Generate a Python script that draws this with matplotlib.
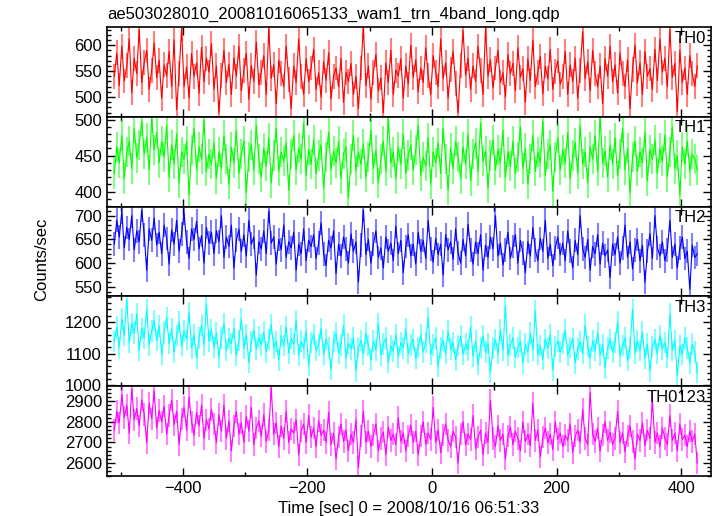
import numpy as np
import matplotlib.pyplot as plt
from matplotlib.colors import to_rgba
from matplotlib.ticker import MultipleLocator

plt.rcParams['font.family'] = ['Liberation Sans', 'DejaVu Sans']

title = "ae503028010_20081016065133_wam1_trn_4band_long.qdp"
bands = ["TH0", "TH1", "TH2", "TH3", "TH0123"]
colors = ["#ff0000", "#00ff00", "#0000ff", "#00ffff", "#ff00ff"]

# time grid of the light curve (sec from 2008/10/16 06:51:33)
t_start = -510
t_step = 4

th0 = [540, 585, 522, 598, 531, 560, 612, 508, 575, 545, 630, 528, 566, 590, 515, 552, 604, 537, 571, 498,
       562, 541, 588, 520, 610, 476, 545, 632, 520, 558, 498, 584, 540, 566, 507, 596, 529, 575, 548, 603,
       515, 560, 470, 541, 590, 528, 563, 505, 576, 540, 598, 512, 552, 584, 496, 561, 530, 606, 523, 548,
       580, 505, 632, 536, 562, 487, 571, 545, 520, 598, 534, 478, 560, 528, 612, 540, 505, 574, 530, 556,
       592, 515, 547, 500, 568, 532, 585, 497, 540, 556, 520, 575, 490, 548, 530, 565, 505, 540, 478, 556,
       635, 522, 560, 496, 548, 582, 512, 537, 470, 566, 528, 590, 505, 552, 541, 574, 498, 560, 525, 600,
       538, 572, 510, 556, 528, 595, 541, 505, 580, 548, 520, 612, 535, 566, 498, 553, 588, 526, 470, 560,
       628, 542, 575, 515, 560, 530, 598, 552, 505, 632, 540, 572, 518, 556, 590, 528, 547, 500, 582, 545,
       565, 512, 595, 538, 555, 490, 574, 532, 610, 520, 548, 578, 506, 560, 535, 592, 515, 550, 570, 525,
       540, 588, 505, 562, 530, 575, 498, 552, 626, 535, 568, 512, 590, 545, 520, 560, 487, 574, 540, 598,
       530, 562, 508, 585, 545, 520, 572, 478, 553, 600, 527, 566, 505, 588, 540, 555, 515, 592, 532, 612,
       548, 575, 520, 630, 538, 565, 472, 590, 528, 556, 505, 580, 545, 520, 560]

th1 = [425, 462, 440, 478, 418, 455, 470, 432, 488, 447, 465, 498, 452, 475, 430, 503, 458, 482, 440, 470,
       448, 492, 420, 465, 438, 480, 412, 455, 445, 470, 395, 458, 488, 430, 462, 445, 500, 428, 452, 438,
       468, 418, 455, 432, 478, 445, 410, 462, 440, 485, 425, 452, 470, 398, 448, 465, 430, 492, 445, 420,
       460, 435, 475, 412, 450, 488, 428, 455, 442, 468, 402, 452, 478, 430, 460, 445, 495, 422, 458, 438,
       472, 425, 450, 465, 405, 448, 482, 430, 456, 440, 470, 418, 452, 462, 392, 445, 478, 428, 455, 438,
       466, 420, 448, 485, 432, 458, 412, 445, 470, 428, 502, 440, 455, 418, 462, 438, 480, 425, 450, 465,
       430, 458, 492, 422, 448, 435, 475, 410, 455, 440, 468, 425, 488, 445, 402, 460, 432, 470, 448, 418,
       462, 438, 480, 415, 452, 468, 428, 495, 442, 456, 405, 450, 472, 430, 458, 440, 485, 420, 455, 435,
       470, 425, 448, 490, 432, 460, 410, 445, 478, 428, 455, 440, 498, 422, 452, 465, 400, 448, 475, 430,
       458, 440, 482, 418, 450, 468, 425, 492, 438, 455, 412, 462, 445, 478, 428, 505, 440, 456, 420, 465,
       438, 475, 422, 452, 488, 430, 460, 398, 448, 470, 428, 455, 440, 482, 415, 458, 445, 472, 425, 460,
       442, 478, 420, 455, 490, 432, 450, 395, 462, 438, 470, 428, 452, 445, 430]

th2 = [640, 690, 655, 708, 632, 675, 650, 700, 628, 668, 645, 712, 660, 585, 672, 648, 695, 638, 665, 620,
       680, 652, 598, 670, 640, 690, 625, 662, 705, 645, 610, 672, 650, 688, 630, 658, 600, 675, 642, 665,
       620, 668, 645, 700, 612, 655, 635, 680, 590, 648, 672, 625, 660, 615, 690, 640, 655, 575, 645, 630,
       668, 620, 710, 642, 655, 598, 650, 628, 680, 612, 645, 632, 665, 585, 640, 620, 672, 605, 648, 635,
       660, 610, 642, 685, 620, 595, 648, 632, 668, 578, 640, 615, 655, 630, 600, 662, 625, 645, 560, 638,
       712, 618, 650, 600, 640, 668, 612, 632, 590, 655, 625, 642, 605, 678, 620, 648, 580, 635, 660, 615,
       640, 598, 665, 625, 648, 610, 690, 630, 602, 652, 618, 640, 575, 660, 628, 645, 608, 672, 622, 600,
       650, 615, 682, 628, 598, 645, 620, 660, 585, 638, 612, 655, 630, 700, 615, 642, 596, 628, 665, 610,
       635, 660, 600, 648, 622, 580, 645, 615, 675, 628, 605, 652, 625, 690, 610, 640, 595, 632, 655, 618,
       642, 605, 668, 625, 590, 648, 618, 700, 630, 612, 650, 585, 635, 620, 660, 598, 642, 615, 628, 570,
       640, 618, 655, 600, 632, 680, 612, 645, 588, 628, 650, 605, 638, 560, 625, 662, 610, 700, 632, 615,
       645, 605, 628, 690, 612, 640, 590, 632, 655, 610, 625, 545, 638, 612, 620]

th3 = [1140, 1185, 1120, 1210, 1158, 1270, 1135, 1195, 1165, 1225, 1110, 1180, 1150, 1240, 1128, 1172, 1205, 1142, 1188, 1098,
       1165, 1215, 1132, 1178, 1105, 1158, 1200, 1125, 1172, 1145, 1230, 1118, 1160, 1085, 1150, 1190, 1128, 1255, 1140, 1175,
       1120, 1165, 1088, 1150, 1195, 1110, 1148, 1132, 1180, 1095, 1142, 1210, 1118, 1160, 1072, 1138, 1175, 1115, 1152, 1128,
       1168, 1105, 1145, 1192, 1118, 1138, 1080, 1155, 1125, 1185, 1102, 1148, 1130, 1205, 1095, 1140, 1118, 1172, 1062, 1135,
       1160, 1110, 1128, 1180, 1098, 1145, 1120, 1050, 1138, 1165, 1102, 1128, 1190, 1085, 1132, 1115, 1150, 1045, 1120, 1142,
       1098, 1165, 1125, 1080, 1140, 1112, 1195, 1095, 1130, 1150, 1072, 1125, 1108, 1160, 1090, 1135, 1118, 1178, 1100, 1128,
       1145, 1085, 1120, 1160, 1105, 1135, 1215, 1098, 1128, 1150, 1060, 1118, 1142, 1100, 1172, 1115, 1135, 1080, 1125, 1155,
       1098, 1130, 1112, 1185, 1092, 1140, 1065, 1120, 1155, 1105, 1132, 1040, 1118, 1145, 1100, 1175, 1110, 1250, 1095, 1128,
       1150, 1088, 1120, 1140, 1070, 1130, 1105, 1165, 1112, 1235, 1098, 1125, 1082, 1145, 1118, 1160, 1048, 1122, 1140, 1105,
       1132, 1175, 1095, 1120, 1148, 1070, 1115, 1138, 1100, 1190, 1122, 1085, 1140, 1110, 1165, 1095, 1128, 1055, 1118, 1145,
       1105, 1135, 1200, 1092, 1125, 1150, 1078, 1118, 1240, 1102, 1140, 1110, 1168, 1085, 1130, 1045, 1122, 1145, 1100, 1158,
       1115, 1135, 1088, 1225, 1110, 1142, 1030, 1125, 1098, 1150, 1118, 1070, 1130, 1105, 1040]

th0123 = [2760, 2850, 2795, 2930, 2820, 2880, 2745, 2960, 2810, 2865, 2780, 2905, 2835, 2700, 2890, 2815, 2950, 2770, 2855, 2800,
          2875, 2740, 2830, 2905, 2785, 2850, 2690, 2815, 2870, 2760, 2920, 2800, 2735, 2845, 2780, 2880, 2720, 2810, 2765, 2860,
          2790, 2700, 2835, 2755, 2880, 2720, 2805, 2660, 2780, 2850, 2740, 2795, 2700, 2825, 2755, 2870, 2690, 2770, 2805, 2730,
          2835, 2705, 2760, 2965, 2740, 2795, 2680, 2780, 2720, 2850, 2700, 2765, 2745, 2810, 2640, 2755, 2790, 2700, 2830, 2725,
          2770, 2680, 2805, 2735, 2760, 2700, 2845, 2690, 2745, 2620, 2725, 2790, 2705, 2760, 2660, 2740, 2700, 2810, 2580, 2730,
          2850, 2700, 2755, 2680, 2735, 2790, 2660, 2720, 2750, 2640, 2775, 2710, 2740, 2690, 2820, 2705, 2745, 2660, 2730, 2785,
          2700, 2755, 2640, 2730, 2800, 2690, 2745, 2715, 2870, 2700, 2760, 2650, 2735, 2790, 2710, 2680, 2755, 2725, 2600, 2740,
          2800, 2690, 2740, 2715, 2830, 2670, 2725, 2760, 2640, 2745, 2700, 2905, 2720, 2680, 2780, 2710, 2740, 2620, 2730, 2775,
          2690, 2755, 2720, 2660, 2800, 2705, 2740, 2685, 2890, 2710, 2760, 2630, 2725, 2770, 2700, 2740, 2665, 2800, 2715, 2745,
          2680, 2735, 2710, 2790, 2650, 2730, 2760, 2700, 2860, 2720, 2690, 2940, 2740, 2705, 2770, 2660, 2735, 2800, 2710, 2750,
          2690, 2720, 2850, 2700, 2745, 2655, 2730, 2780, 2705, 2620, 2740, 2710, 2795, 2685, 2760, 2720, 2900, 2700, 2745, 2680,
          2770, 2720, 2690, 2830, 2710, 2745, 2660, 2790, 2715, 2735, 2680, 2755, 2705, 2740, 2600]

# typical 1-sigma error per band (counts/sec)
errors = [24, 21, 25, 34, 54]

series = [th0, th1, th2, th3, th0123]
y_limits = [(462, 635), (379, 504), (530, 719), (997, 1281), (2538, 2972)]
y_major = [50, 50, 50, 100, 100]
y_minor = [10, 10, 10, 20, 20]

fig = plt.figure(figsize=(7.17, 5.16), dpi=100)
axes = fig.subplots(5, 1, sharex=True, gridspec_kw=dict(hspace=0))
fig.subplots_adjust(left=0.149, right=0.9916, bottom=0.0775, top=0.9477)

for i, ax in enumerate(axes):
    vals = np.array(series[i], dtype=float)
    t = t_start + t_step * np.arange(len(vals))
    ax.errorbar(t, vals, yerr=errors[i], color=colors[i], lw=0.8,
                ecolor=to_rgba(colors[i], 0.5), elinewidth=1.5, capsize=0)
    ax.set_xlim(-522, 448)
    ax.set_ylim(*y_limits[i])
    ax.yaxis.set_major_locator(MultipleLocator(y_major[i]))
    ax.yaxis.set_minor_locator(MultipleLocator(y_minor[i]))
    ax.xaxis.set_major_locator(MultipleLocator(200))
    ax.xaxis.set_minor_locator(MultipleLocator(100))
    ax.tick_params(which='both', direction='in', top=True, right=True, labelsize=12)
    ax.tick_params(which='major', length=6, width=1)
    ax.tick_params(which='minor', length=3, width=1)
    for sp in ax.spines.values():
        sp.set_linewidth(1.2)
    ax.text(0.992, 0.96, bands[i], transform=ax.transAxes, ha='right', va='top', fontsize=12)

fig.text(107 / 717, 1 - 14 / 516, title, ha='left', va='center', fontsize=12)
fig.text(42 / 717, 0.497, "Counts/sec", rotation=90, ha='center', va='center', fontsize=12)
fig.text(409 / 717, 1 - 508 / 516, "Time [sec] 0 = 2008/10/16 06:51:33", ha='center', va='center', fontsize=12)

fig.savefig("out.png", dpi=100)
